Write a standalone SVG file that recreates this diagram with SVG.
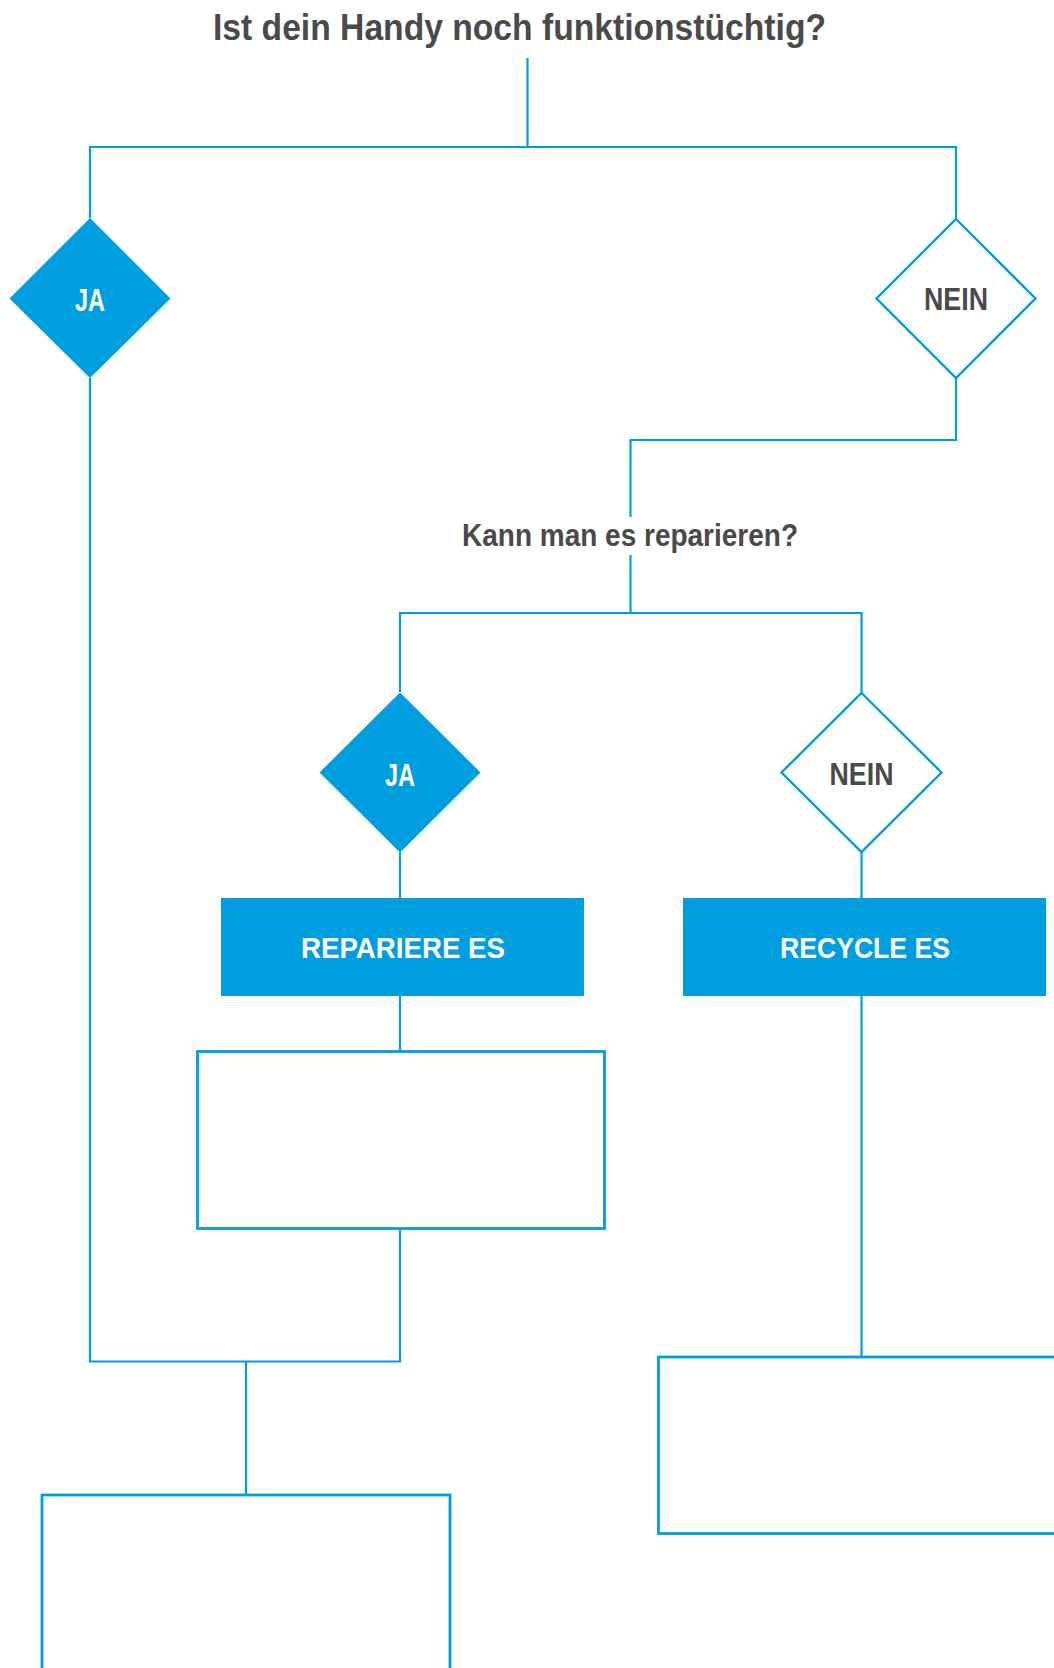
<svg xmlns="http://www.w3.org/2000/svg" width="1054" height="1668" viewBox="0 0 1054 1668">
<style>
.bg{fill:#ffffff}
.ln{fill:none;stroke:#009ddf;stroke-width:2.2}
.box{fill:#ffffff;stroke:#009ddf;stroke-width:2.8}
.fill{fill:#009ddf}
.dia{fill:#ffffff;stroke:#009ddf;stroke-width:2.4}
.t{font-family:"Liberation Sans",Arial,sans-serif;font-weight:bold;text-anchor:middle}
.dark{fill:#4a4a4c}
.white{fill:#ffffff}
</style>
<rect class="bg" x="0" y="0" width="1054" height="1668"/>
<g id="connectors">
<path class="ln" d="M527.5 58 V147"/>
<path class="ln" d="M90 218 V147 H956 V218"/>
<path class="ln" d="M956 378 V440 H630.5 V517"/>
<path class="ln" d="M630.5 555 V613"/>
<path class="ln" d="M400 692 V613 H861.5 V692"/>
<path class="ln" d="M400 852 V898"/>
<path class="ln" d="M861.5 852 V898"/>
<path class="ln" d="M400 996 V1051"/>
<path class="ln" d="M861.5 996 V1357"/>
<path class="ln" d="M90 378 V1361.5 H400 V1228"/>
<path class="ln" d="M246 1361.5 V1495"/>
</g>
<g id="title">
<text class="t dark" x="519.5" y="40" font-size="37.5" textLength="613" lengthAdjust="spacingAndGlyphs">Ist dein Handy noch funktionstüchtig?</text>
</g>
<g id="ja1">
<polygon class="fill" points="90,218 170.5,298.5 90,378 9.5,298.5"/>
<text class="t white" x="90" y="310.5" font-size="31.5" textLength="30" lengthAdjust="spacingAndGlyphs">JA</text>
</g>
<g id="nein1">
<polygon class="dia" points="956,219 1035.5,298.5 956,378 876.5,298.5"/>
<text class="t dark" x="956" y="310" font-size="30.5" textLength="64" lengthAdjust="spacingAndGlyphs">NEIN</text>
</g>
<g id="question2">
<text class="t dark" x="630" y="546" font-size="31.5" textLength="336" lengthAdjust="spacingAndGlyphs">Kann man es reparieren?</text>
</g>
<g id="ja2">
<polygon class="fill" points="400,692.5 480.5,772.5 400,852.5 319.5,772.5"/>
<text class="t white" x="400" y="785.5" font-size="31.5" textLength="30" lengthAdjust="spacingAndGlyphs">JA</text>
</g>
<g id="nein2">
<polygon class="dia" points="861.5,693 941.5,772.5 861.5,852 781.5,772.5"/>
<text class="t dark" x="861.5" y="785" font-size="30.5" textLength="64" lengthAdjust="spacingAndGlyphs">NEIN</text>
</g>
<g id="repariere">
<rect class="fill" x="221" y="898" width="363" height="98"/>
<text class="t white" x="403" y="958" font-size="29.5" textLength="204" lengthAdjust="spacingAndGlyphs">REPARIERE ES</text>
</g>
<g id="recycle">
<rect class="fill" x="683" y="898" width="363" height="98"/>
<text class="t white" x="865" y="958" font-size="29.5" textLength="170" lengthAdjust="spacingAndGlyphs">RECYCLE ES</text>
</g>
<g id="box1">
<rect class="box" x="197.5" y="1051.5" width="407" height="177"/>
</g>
<g id="box2">
<rect class="box" x="658.5" y="1357" width="440" height="176.5"/>
</g>
<g id="box3">
<rect class="box" x="42" y="1495" width="408" height="240"/>
</g>
</svg>
